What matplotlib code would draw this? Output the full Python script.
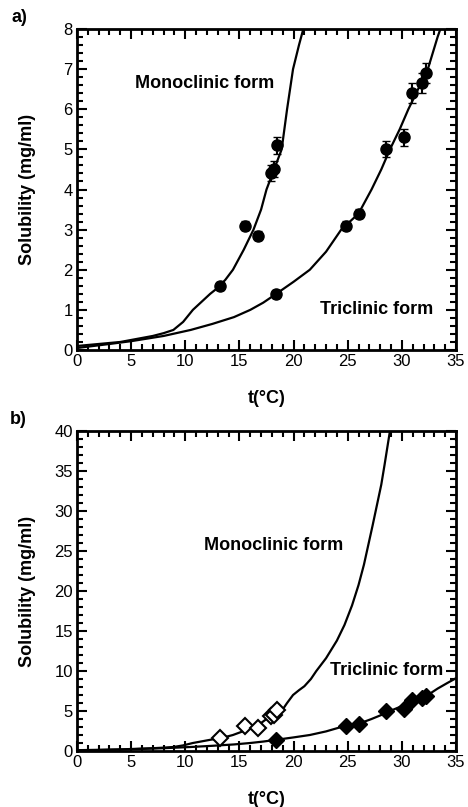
"""
Solubility of the monoclinic and triclinic forms vs temperature
"""
import matplotlib
matplotlib.use('Agg')
import matplotlib.pyplot as plt
from matplotlib.ticker import MultipleLocator

plt.rcParams['font.family'] = ['Liberation Sans', 'DejaVu Sans']

# measured points
mono_t = [13.2, 15.5, 16.7, 17.9, 18.2, 18.5]
mono_s = [1.6, 3.1, 2.85, 4.4, 4.5, 5.1]
tri_t = [18.4, 24.8, 26.0, 28.5, 30.2, 30.9, 31.9, 32.2]
tri_s = [1.4, 3.1, 3.4, 5.0, 5.3, 6.4, 6.65, 6.9]
mono_err = [0.1, 0.12, 0.12, 0.2, 0.2, 0.22]
tri_err = [0.1, 0.12, 0.12, 0.2, 0.22, 0.25, 0.25, 0.25]

# fitted curves
mono_fit_t = [0, 2, 4, 5, 6, 7, 8, 8.9, 9.8, 10.7, 11.5, 12.3, 13, 13.7, 14.4, 15.4,
              16.3, 17.0, 17.5, 18.2, 18.9, 19.4, 19.95, 20.5, 21.0, 21.6,
              22.1, 23.0, 24.0, 24.7, 25.4, 26.0, 26.5, 26.9, 27.3, 27.7, 28.1, 28.4, 28.9]
mono_fit_s = [0.1, 0.15, 0.2, 0.25, 0.3, 0.35, 0.42, 0.5, 0.7, 1.0, 1.2, 1.4, 1.55, 1.75,
              2.0, 2.5, 3.0, 3.5, 4.0, 4.5, 5.0, 6.0, 7.0, 7.6, 8.1, 9.0,
              10.0, 11.6, 13.8, 15.75, 18.2, 20.75, 23.3, 25.75, 28.2, 30.75, 33.3, 35.75, 40.0]
tri_fit_t = [0, 3, 5, 8, 10.5, 12.5, 14.5, 16, 17.2, 18.4, 20, 21.5, 23, 24.4, 25.2, 26,
             27.2, 28.1, 28.9, 29.8, 30.6, 31.5, 32.4, 33.3, 34.2, 35]
tri_fit_s = [0.05, 0.15, 0.22, 0.35, 0.5, 0.65, 0.82, 1.0, 1.18, 1.4, 1.7, 2.0, 2.45, 3.0,
             3.2, 3.4, 4.0, 4.5, 5.0, 5.5, 6.0, 6.5, 7.0, 7.8, 8.5, 9.1]


def style_axes(ax, ymax, ymajor, yminor):
    ax.set_xlim(0, 35)
    ax.set_ylim(0, ymax)
    ax.xaxis.set_major_locator(MultipleLocator(5))
    ax.xaxis.set_minor_locator(MultipleLocator(1))
    ax.yaxis.set_major_locator(MultipleLocator(ymajor))
    ax.yaxis.set_minor_locator(MultipleLocator(yminor))
    ax.tick_params(which='both', direction='in', top=True, right=True, width=1.5,
                   labelsize=12, pad=3)
    ax.tick_params(which='major', length=7)
    ax.tick_params(which='minor', length=4)
    for sp in ax.spines.values():
        sp.set_linewidth(2)
    ax.set_xlabel('t(°C)', fontsize=13, fontweight='bold')
    ax.set_ylabel('Solubility (mg/ml)', fontsize=13, fontweight='bold')
    ax.xaxis.set_label_coords(0.5, -0.125)
    ax.xaxis.label.set_va('top')
    ax.yaxis.set_label_coords(-0.108, 0.5)


fig = plt.figure(figsize=(4.68, 8.07), dpi=100)
ax1 = fig.add_axes([77 / 468, 1 - 350 / 807, 379 / 468, 321 / 807])
ax2 = fig.add_axes([77 / 468, 1 - 751 / 807, 379 / 468, 320 / 807])

# panel a
ax1.plot(mono_fit_t, mono_fit_s, color='black', lw=1.6)
ax1.plot(tri_fit_t, tri_fit_s, color='black', lw=1.6)
ax1.errorbar(mono_t, mono_s, yerr=mono_err, xerr=0.25, fmt='o', color='black', ms=8,
             capsize=3, elinewidth=1.5)
ax1.errorbar(tri_t, tri_s, yerr=tri_err, xerr=0.25, fmt='o', color='black', ms=8,
             capsize=3, elinewidth=1.5)
ax1.text(5.4, 6.65, 'Monoclinic form', fontsize=13, fontweight='bold', va='center')
ax1.text(22.4, 1.0, 'Triclinic form', fontsize=13, fontweight='bold', va='center')
style_axes(ax1, 8, 1, 0.2)
fig.text(12 / 468, 1 - 18 / 807, 'a)', fontsize=13, fontweight='bold', va='center')

# panel b
ax2.plot(mono_fit_t, mono_fit_s, color='black', lw=1.6)
ax2.plot(tri_fit_t, tri_fit_s, color='black', lw=1.6)
ax2.plot(mono_t, mono_s, 'D', mfc='white', mec='black', mew=1.5, ms=8)
ax2.plot(tri_t, tri_s, 'D', color='black', ms=8)
ax2.text(11.7, 25.7, 'Monoclinic form', fontsize=13, fontweight='bold', va='center')
ax2.text(23.4, 10.1, 'Triclinic form', fontsize=13, fontweight='bold', va='center')
style_axes(ax2, 40, 5, 1)
fig.text(10 / 468, 1 - 420 / 807, 'b)', fontsize=13, fontweight='bold', va='center')

fig.savefig('out.png', dpi=100)
